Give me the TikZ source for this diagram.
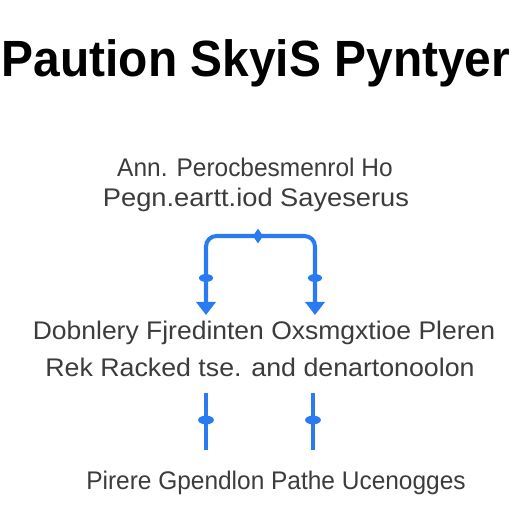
\documentclass[tikz,border=0pt]{standalone}
\usepackage{fontspec}
\setmainfont{Liberation Sans}
\usetikzlibrary{arrows.meta,shapes.geometric}
\definecolor{flowblue}{HTML}{2A7BF2}
\definecolor{labelgray}{HTML}{3C3C3C}
\begin{document}
\begin{tikzpicture}[x=0.02cm,y=-0.02cm,
  title/.style={font=\fontsize{29}{34}\selectfont\bfseries,text=black,inner sep=0pt},
  label/.style={font=\fontsize{14.5}{17}\selectfont,text=labelgray,inner sep=0pt},
  flow/.style={draw=flowblue,line width=2.3pt},
  tick/.style={ellipse,fill=flowblue,minimum width=8pt,minimum height=4.5pt,inner sep=0pt},
  dot/.style={ellipse,fill=flowblue,minimum width=9pt,minimum height=5pt,inner sep=0pt},
  knob/.style={diamond,fill=flowblue,minimum width=6pt,minimum height=8.5pt,inner sep=0pt}]
\useasboundingbox[fill=white] (0,0) rectangle (512,512);
% title
\node[title,xscale=0.94] (head) at (256,63) {Paution SkyiS Pyntyer};
% upper labels
\node[label,xscale=0.96] (ann) at (255,167) {Ann. Perocbesmenrol Ho};
\node[label,xscale=1.07] (peg) at (256,200) {Pegn.eartt.iod Sayeserus};
% branch
\coordinate (lend) at (206,315);
\coordinate (rend) at (315,315);
\coordinate (mid) at (258,236);
\draw[flow,rounded corners=6pt,{Triangle[width=11pt,length=7.5pt]}-{Triangle[width=11pt,length=7.5pt]}]
  (lend) |- (mid) -| (rend);
\node[knob] (k) at (mid) {};
\node[tick] (tl) at (206,278) {};
\node[tick] (tr) at (315,278) {};
% middle labels
\node[label,xscale=1.04] (dob) at (264,333) {Dobnlery Fjredinten Oxsmgxtioe Pleren};
\node[label,xscale=1.05] (rek) at (260,367) {Rek Racked tse. and denartonoolon};
% lower ties
\coordinate (la) at (206,393);
\coordinate (lb) at (206,450);
\coordinate (ra) at (313,393);
\coordinate (rb) at (313,450);
\draw[flow] (la) -- (lb);
\draw[flow] (ra) -- (rb);
\node[dot] (dl) at (206,420) {};
\node[dot] (dr) at (313,420) {};
% bottom label
\node[label,xscale=0.96] (pir) at (276,483) {Pirere Gpendlon Pathe Ucenogges};
\end{tikzpicture}
\end{document}
